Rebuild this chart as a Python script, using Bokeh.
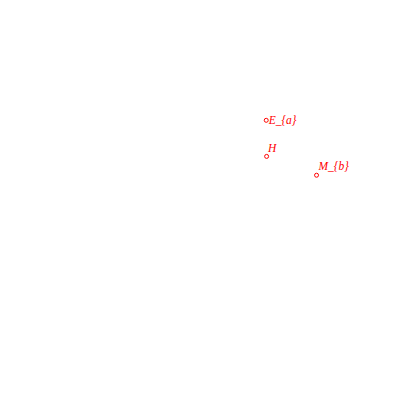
from bokeh.plotting import figure
from bokeh.models import ColumnDataSource, Range1d
from bokeh.core.properties import value
from bokeh.embed import file_html
from bokeh.resources import INLINE

labels = ["E_{a}", "H", "M_{b}"]
x_vals = [69.2, 69.3, 82.3]
y_vals = [68.8, 59.4, 54.5]
label_dx = [2.5, 1.5, 2]
label_dy = [0, -8, -9]

src = ColumnDataSource(dict(x=x_vals, y=y_vals, label=labels, dx=label_dx, dy=label_dy))

p = figure(width=384, height=384, output_backend="svg", toolbar_location=None,
           x_range=Range1d(0, 100), y_range=Range1d(0, 100),
           min_border=0, min_border_left=0, min_border_right=0,
           min_border_top=0, min_border_bottom=0)
p.axis.visible = False
p.grid.visible = False
p.outline_line_color = None
p.background_fill_color = "white"
p.border_fill_color = "white"

p.scatter("x", "y", source=src, size=4, fill_color=None, line_color="red", line_width=1)
p.text("x", "y", text="label", source=src, x_offset="dx", y_offset="dy",
       text_font=value("Liberation Serif"), text_font_style="italic",
       text_font_size="11.5px", text_color="red", text_baseline="alphabetic", text_align="left")

open("out.html", "w").write(file_html(p, INLINE))
